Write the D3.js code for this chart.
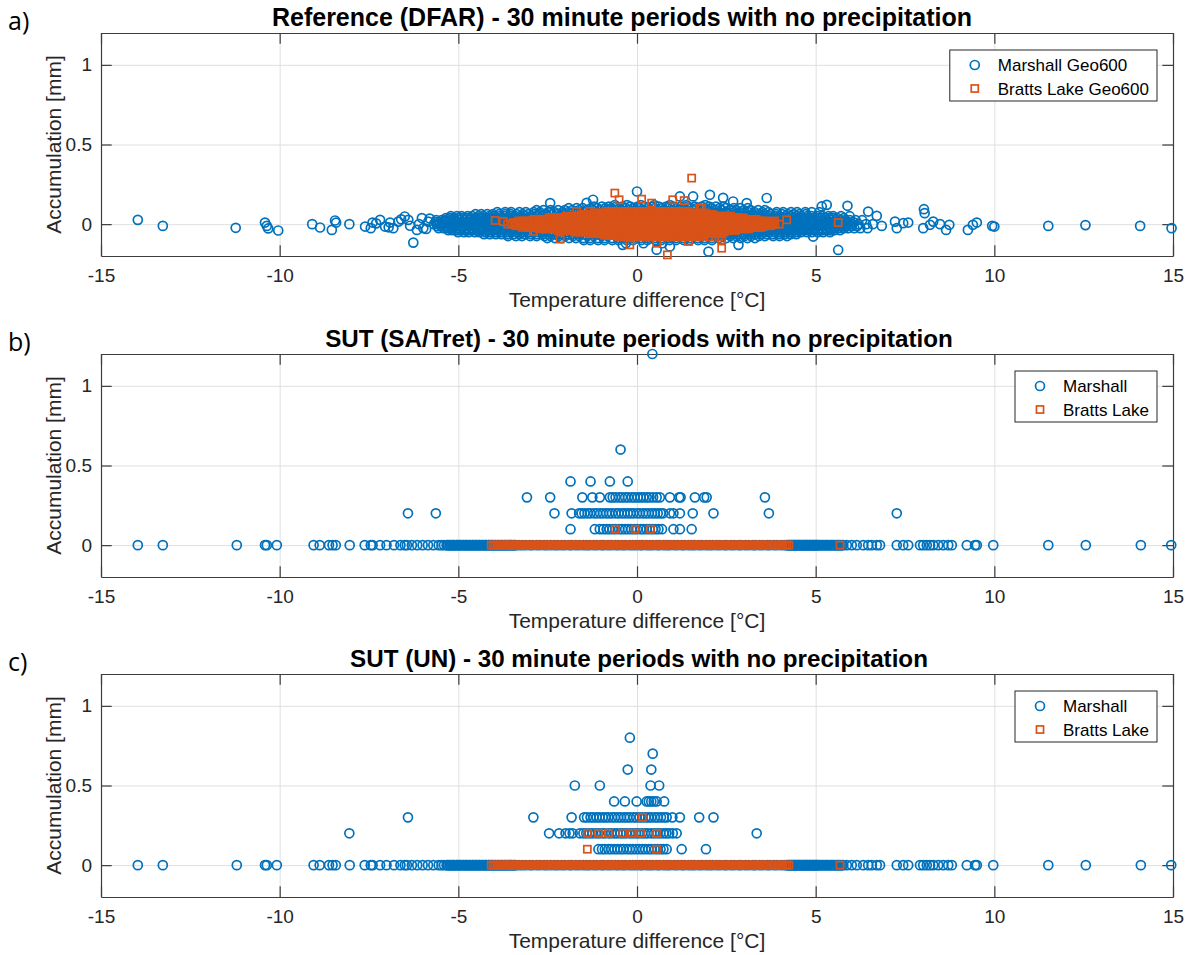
<!DOCTYPE html>
<html>
<head>
<meta charset="utf-8">
<script src="https://cdn.jsdelivr.net/npm/d3@7"></script>
<style>
  body { margin: 0; background: #fff; }
  svg { display: block; }
  text { font-family: "Liberation Sans", Arial, Helvetica, sans-serif; }
</style>
</head>
<body>
<svg id="fig" width="1191" height="955"></svg>
<script>
// ---- Axis ticks ----
const xTicks = [-15, -10, -5, 0, 5, 10, 15];
const yTicks = [0, 0.5, 1];
const xTickLabels = ["-15", "-10", "-5", "0", "5", "10", "15"];
const yTickLabels = ["0", "0.5", "1"];

// ---- a) Reference (DFAR) ----
// isolated periods: [temperature difference, accumulation]
const refMarshallSparse = [
  [-13.97, 0.027], [-13.27, -0.011], [-11.23, -0.023], [-10.41, 0.01], [-10.36, -0.011],
  [-10.32, -0.027], [-10.04, -0.04], [-9.09, 0], [-8.87, -0.021], [-8.54, -0.036],
  [-8.45, 0.023], [-8.42, 0.01], [-8.05, 0], [-7.61, -0.015], [-7.45, -0.025],
  [-7.4, 0.01], [-7.3, 0.005], [-7.19, 0.027], [-7.05, -0.015], [-6.95, -0.02],
  [-6.91, 0.01], [-6.82, -0.025], [-6.68, 0.016], [-6.6, 0.03], [-6.5, 0.048],
  [-6.4, 0.027], [-6.35, -0.01], [-6.26, -0.116], [-6.16, -0.036], [-6.1, 0],
  [-6.02, 0.038], [-5.98, -0.025], [-5.9, -0.03], [-5.84, 0.016], [-5.8, 0.035],
  [-2.43, 0.132], [-1.41, 0.134], [-1.23, 0.153], [0, 0.205], [1.2, 0.174], [1.57, 0.174],
  [2.04, 0.184], [2.41, 0.165], [2.69, 0.142], [3.07, 0.132], [3.63, 0.164],
  [2.0, -0.172], [2.84, -0.13], [0.55, -0.16], [0.92, -0.14], [-0.4, -0.13],
  [4.93, -0.078], [5.17, 0.111], [5.31, 0.121], [5.63, -0.162], [5.89, 0.115],
  [6.47, 0.079], [6.71, 0.052], [6.85, -0.011], [7.22, 0.016], [7.27, -0.025],
  [7.45, 0.006], [7.59, 0.01], [8.01, -0.025], [8.03, 0.094], [8.05, 0.069],
  [8.2, -0.004], [8.29, 0.016], [8.48, 0], [8.65, -0.036], [8.74, -0.004],
  [9.26, -0.036], [9.4, -0.004], [9.51, 0.01], [9.94, -0.011], [10.0, -0.015],
  [11.51, -0.011], [12.55, -0.006], [14.08, -0.011], [14.96, -0.025]
];
// dense part of the cloud: [accumulation, [temperature differences]]
const refMarshallBands = [
  [0, [-5.68, -5.57, -5.46, -5.34, -5.23, -5.11, -5.0, -4.89, -4.77, -4.66, -4.55, -4.43,
       -4.31, -4.2, -4.09, -3.97, -3.86, -3.74, -3.63, -3.31, -2.98, -2.72, -2.39, -2.1,
       -1.78, -1.52, -1.19, -0.91, -0.6, -0.33, 0.02, 0.29, 0.61, 0.88, 1.22, 1.49, 1.81,
       2.07, 2.42, 2.68, 3.01, 3.32, 3.61, 3.9, 4.01, 4.13, 4.24, 4.36, 4.47, 4.59, 4.7,
       4.82, 4.93, 5.05, 5.16, 5.28, 5.39, 5.51, 5.62, 5.74, 5.85, 6.02, 6.2, 6.41, 6.6]],
  [0.0125, [-5.63, -5.52, -5.4, -5.29, -5.17, -5.06, -4.94, -4.83, -4.71, -4.6, -4.48,
            -4.37, -4.25, -4.14, -4.02, -3.91, -3.79, -3.68, 3.96, 4.07, 4.19, 4.3, 4.42,
            4.53, 4.65, 4.76, 4.88, 4.99, 5.11, 5.22, 5.34, 5.45, 5.57, 5.68, 5.8, 5.91, 6.05]],
  [-0.0125, [-5.59, -5.47, -5.36, -5.24, -5.13, -5.01, -4.9, -4.78, -4.67, -4.55, -4.44,
             -4.32, -4.21, -4.09, -3.98, -3.86, -3.75, -3.63, 3.92, 4.03, 4.15, 4.26, 4.38,
             4.49, 4.61, 4.72, 4.84, 4.95, 5.07, 5.18, 5.3, 5.41, 5.53, 5.64, 5.76, 5.87,
             6.0, 6.16]],
  [0.025, [-5.62, -5.47, -5.36, -5.22, -5.1, -4.96, -4.84, -4.7, -4.58, -4.45, -4.31,
           -4.19, -4.05, -3.93, -3.79, -3.67, -3.54, -3.4, -3.28, -3.14, -2.82, -2.38, -2.01,
           -1.58, -1.22, -0.79, -0.41, 0.03, 0.38, 0.82, 1.19, 1.61, 1.98, 2.42, 2.79, 3.1,
           3.23, 3.37, 3.49, 3.62, 3.76, 3.88, 4.02, 4.14, 4.27, 4.41, 4.53, 4.66, 4.8, 4.92,
           5.05, 5.19, 5.31, 5.44, 5.58, 5.7, 5.83, 5.96, 6.12, 6.3]],
  [-0.025, [-5.55, -5.41, -5.29, -5.15, -5.03, -4.89, -4.77, -4.63, -4.51, -4.37, -4.25,
            -4.11, -3.99, -3.85, -3.73, -3.59, -3.47, -3.33, -3.21, -3.07, -2.69, -2.31,
            -1.88, -1.51, -1.09, -0.71, -0.28, 0.11, 0.49, 0.92, 1.29, 1.71, 2.08, 2.52, 2.86,
            3.05, 3.19, 3.31, 3.45, 3.57, 3.71, 3.83, 3.97, 4.09, 4.23, 4.35, 4.49, 4.61,
            4.75, 4.87, 5.01, 5.13, 5.27, 5.39, 5.53, 5.65, 5.79, 5.91, 6.08, 6.25, 6.45]],
  [0.0375, [-5.35, -5.23, -5.12, -5.0, -4.89, -4.77, -4.66, -4.54, -4.43, -4.31, -4.2,
            -4.08, -3.97, -3.85, -3.74, -3.62, -3.51, -3.39, -3.28, -3.16, -3.05, -2.93,
            3.31, 3.43, 3.54, 3.66, 3.77, 3.89, 4.0, 4.12, 4.23, 4.35, 4.46, 4.58, 4.69,
            4.81, 4.92, 5.04, 5.15, 5.27, 5.38, 5.5, 5.61, 5.79]],
  [-0.0375, [-5.28, -5.17, -5.05, -4.94, -4.82, -4.71, -4.59, -4.48, -4.36, -4.25, -4.13,
             -4.02, -3.9, -3.79, -3.67, -3.56, -3.44, -3.33, -3.21, -3.1, -2.98, 3.22, 3.34,
             3.45, 3.57, 3.68, 3.8, 3.91, 4.03, 4.14, 4.26, 4.37, 4.49, 4.6, 4.72, 4.83,
             4.95, 5.06, 5.18, 5.29, 5.41, 5.52, 5.68]],
  [0.05, [-5.21, -5.04, -4.91, -4.74, -4.61, -4.44, -4.31, -4.14, -4.01, -3.84, -3.71,
          -3.54, -3.41, -3.24, -3.11, -2.94, -2.81, -2.64, -2.51, -2.18, -1.82, -1.39, -1.02,
          -0.58, -0.21, 0.22, 0.58, 1.01, 1.38, 1.82, 2.19, 2.49, 2.66, 2.79, 2.96, 3.09,
          3.26, 3.39, 3.56, 3.69, 3.86, 3.99, 4.16, 4.29, 4.46, 4.59, 4.76, 4.89, 5.06,
          5.19, 5.36, 5.49, 5.71, 5.95]],
  [-0.05, [-5.01, -4.84, -4.71, -4.54, -4.41, -4.24, -4.11, -3.94, -3.81, -3.64, -3.51,
           -3.34, -3.21, -3.04, -2.91, -2.74, -2.61, -2.44, -2.31, -1.98, -1.61, -1.19,
           -0.82, -0.39, 0.01, 0.42, 0.79, 1.21, 1.58, 2.02, 2.36, 2.49, 2.66, 2.79, 2.96,
           3.09, 3.26, 3.39, 3.56, 3.69, 3.86, 3.99, 4.16, 4.29, 4.46, 4.59, 4.76, 4.89,
           5.06, 5.21, 5.4]],
  [0.0625, [-4.52, -4.36, -4.19, -4.03, -3.86, -3.7, -3.53, -3.37, -3.2, -3.04, -2.87,
            -2.71, -2.54, -2.38, -2.21, -2.05, -1.88, -1.72, -1.55, -1.39, -1.22, -1.06,
            -0.89, -0.73, -0.56, -0.4, -0.23, -0.07, 0.1, 0.26, 0.43, 0.59, 0.76, 0.92, 1.09,
            1.25, 1.42, 1.58, 1.75, 1.91, 2.08, 2.24, 2.41, 2.57, 2.74, 2.9, 3.07, 3.23, 3.4,
            3.56, 3.73, 3.89, 4.06, 4.22, 4.39, 4.55, 4.72]],
  [-0.0625, [-4.28, -4.12, -3.95, -3.79, -3.62, -3.46, -3.29, -3.13, -2.96, -2.8, -2.63,
             -2.47, -2.3, -2.14, -1.97, -1.81, -1.64, -1.48, -1.31, -1.15, -0.98, -0.82,
             -0.65, -0.49, -0.32, -0.16, 0.01, 0.17, 0.34, 0.5, 0.67, 0.83, 1.0, 1.16, 1.33,
             1.49, 1.66, 1.82, 1.99, 2.15, 2.32, 2.48, 2.65, 2.81, 2.98, 3.14, 3.31, 3.47,
             3.64, 3.8, 3.97, 4.13, 4.3, 4.46]],
  [0.075, [-3.91, -3.69, -3.52, -3.29, -3.11, -2.89, -2.72, -2.49, -2.31, -2.09, -1.92,
           -1.69, -1.51, -1.29, -1.12, -0.89, -0.71, -0.49, -0.32, -0.09, 0.09, 0.31, 0.48,
           0.71, 0.88, 1.11, 1.28, 1.51, 1.69, 1.91, 2.08, 2.31, 2.49, 2.71, 2.88, 3.11,
           3.29, 3.51, 3.68, 3.91, 4.09, 4.31, 4.48, 4.71, 4.89, 5.1]],
  [-0.075, [-3.61, -3.39, -3.22, -2.99, -2.81, -2.59, -2.42, -2.19, -2.01, -1.79, -1.62,
            -1.39, -1.21, -0.99, -0.82, -0.59, -0.41, -0.19, -0.02, 0.21, 0.38, 0.61, 0.79,
            1.01, 1.18, 1.41, 1.59, 1.81, 1.98, 2.21, 2.39, 2.61, 2.78, 3.01, 3.19, 3.41,
            3.58, 3.81, 3.99, 4.2]],
  [0.0875, [-2.81, -2.62, -2.42, -2.21, -2.02, -1.81, -1.62, -1.41, -1.22, -1.01, -0.82,
            -0.61, -0.42, -0.21, -0.02, 0.19, 0.38, 0.59, 0.78, 0.99, 1.18, 1.39, 1.58, 1.79,
            1.98, 2.19, 2.38, 2.59, 2.78, 2.99, 3.18, 3.39, 3.58]],
  [-0.0875, [-2.51, -2.3, -2.11, -1.9, -1.71, -1.5, -1.31, -1.1, -0.91, -0.7, -0.51, -0.3,
             -0.11, 0.1, 0.29, 0.5, 0.69, 0.9, 1.09, 1.3, 1.49, 1.7, 1.89, 2.1, 2.29, 2.5,
             2.69, 2.9, 3.09, 3.3]],
  [0.1, [-1.91, -1.69, -1.52, -1.29, -1.11, -0.89, -0.72, -0.49, -0.31, -0.09, 0.08, 0.31,
         0.49, 0.71, 0.88, 1.11, 1.29, 1.51, 1.68, 1.91, 2.09, 2.31, 2.48, 2.71, 2.89, 3.1]],
  [-0.1, [-1.49, -1.31, -1.09, -0.91, -0.69, -0.52, -0.29, -0.11, 0.12, 0.29, 0.51, 0.68,
          0.91, 1.09, 1.31, 1.48, 1.71, 1.89, 2.1]],
  [0.11, [-1.2, -0.98, -0.79, -0.58, -0.41, -0.19, 0.02, 0.21, 0.42, 0.61, 0.82, 1.01, 1.22,
          1.41, 1.62, 1.81, 2.02, 2.21, 2.42]],
  [0.12, [-0.62, -0.28, 0.11, 0.49, 0.92, 1.38, 1.91]],
  [-0.12, [-0.31, 0.18, 0.71]]
];

const refBrattsSparse = [
  [1.53, 0.289], [-0.62, 0.195], [-0.5, 0.153], [0.13, 0.157], [1.0, 0.153], [1.32, 0.148],
  [0.41, 0.132], [1.81, 0.1], [1.76, 0.1], [0.85, -0.193], [2.37, -0.151], [-0.2, -0.13],
  [-2.15, -0.094], [-3.97, 0.023], [-3.74, 0.016], [4.19, 0.027], [2.46, 0.05],
  [2.37, -0.099], [1.44, -0.109], [0.55, -0.12], [-2.9, -0.046], [2.42, -0.036],
  [-1.69, 0.08], [-1.32, 0.08], [5.63, 0.01], [3.6, 0.01], [3.85, 0.02]
];
const refBrattsBands = [
  [0, [-3.62, -3.51, -3.38, -3.27, -3.15, -3.04, -2.92, -2.81, -2.69, -2.58, -2.46, -2.35,
       -2.23, -2.12, -2.01, -1.89, -1.77, -1.66, -1.54, -1.43, -1.31, -1.2, -1.08, -0.97,
       -0.85, -0.74, -0.62, -0.51, -0.39, -0.28, -0.16, -0.05, 0.07, 0.18, 0.3, 0.41, 0.53,
       0.64, 0.76, 0.87, 0.99, 1.1, 1.22, 1.33, 1.45, 1.56, 1.68, 1.79, 1.91, 2.02, 2.14,
       2.25, 2.37, 2.48, 2.6, 2.71, 2.83, 2.94, 3.06, 3.17, 3.29, 3.4, 3.52, 3.63, 3.75,
       3.86, 3.98]],
  [0.01, [-3.45, -3.33, -3.22, -3.1, -2.99, -2.87, -2.76, -2.64, -2.53, -2.41, -2.3, -2.18,
          -2.07, -1.95, -1.84, -1.72, -1.61, -1.49, -1.38, -1.26, -1.15, -1.03, -0.92, -0.8,
          -0.69, -0.57, -0.46, -0.34, -0.23, -0.11, 0.0, 0.12, 0.23, 0.35, 0.46, 0.58, 0.69,
          0.81, 0.92, 1.04, 1.15, 1.27, 1.38, 1.5, 1.61, 1.73, 1.84, 1.96, 2.07, 2.19, 2.3,
          2.42, 2.53, 2.65, 2.76, 2.88, 2.99, 3.11, 3.22, 3.34, 3.45, 3.57, 3.68, 3.8]],
  [-0.01, [-3.39, -3.27, -3.16, -3.04, -2.93, -2.81, -2.7, -2.58, -2.47, -2.35, -2.24,
           -2.12, -2.01, -1.89, -1.78, -1.66, -1.55, -1.43, -1.32, -1.2, -1.09, -0.97, -0.86,
           -0.74, -0.63, -0.51, -0.4, -0.28, -0.17, -0.05, 0.06, 0.18, 0.29, 0.41, 0.52, 0.64,
           0.75, 0.87, 0.98, 1.1, 1.21, 1.33, 1.44, 1.56, 1.67, 1.79, 1.9, 2.02, 2.13, 2.25,
           2.36, 2.48, 2.59, 2.71, 2.82, 2.94, 3.05, 3.17, 3.28, 3.4, 3.51, 3.63, 3.74]],
  [0.02, [-3.31, -3.18, -3.08, -2.95, -2.85, -2.72, -2.62, -2.49, -2.39, -2.26, -2.16,
          -2.03, -1.93, -1.8, -1.7, -1.57, -1.47, -1.34, -1.24, -1.11, -1.01, -0.88, -0.78,
          -0.65, -0.55, -0.42, -0.32, -0.19, -0.09, 0.04, 0.14, 0.27, 0.37, 0.5, 0.6, 0.73,
          0.83, 0.96, 1.06, 1.19, 1.29, 1.42, 1.52, 1.65, 1.75, 1.88, 1.98, 2.11, 2.21,
          2.34, 2.44, 2.57, 2.67, 2.8, 2.9, 3.03, 3.13, 3.26, 3.36, 3.49, 3.6]],
  [-0.02, [-3.21, -3.07, -2.98, -2.84, -2.75, -2.61, -2.52, -2.38, -2.29, -2.15, -2.06,
           -1.92, -1.83, -1.69, -1.6, -1.46, -1.37, -1.23, -1.14, -1.0, -0.91, -0.77, -0.68,
           -0.54, -0.45, -0.31, -0.22, -0.08, 0.01, 0.15, 0.24, 0.38, 0.47, 0.61, 0.7, 0.84,
           0.93, 1.07, 1.16, 1.3, 1.39, 1.53, 1.62, 1.76, 1.85, 1.99, 2.08, 2.22, 2.31,
           2.45, 2.54, 2.68, 2.77, 2.91, 3.0, 3.14, 3.23, 3.37, 3.47]],
  [0.03, [-2.88, -2.77, -2.65, -2.54, -2.42, -2.31, -2.19, -2.08, -1.96, -1.85, -1.73,
          -1.62, -1.5, -1.39, -1.27, -1.16, -1.04, -0.93, -0.81, -0.7, -0.58, -0.47, -0.35,
          -0.24, -0.12, -0.01, 0.11, 0.22, 0.34, 0.45, 0.57, 0.68, 0.8, 0.91, 1.03, 1.14,
          1.26, 1.37, 1.49, 1.6, 1.72, 1.83, 1.95, 2.06, 2.18, 2.29, 2.41, 2.52, 2.64, 2.75,
          2.87, 2.98, 3.1, 3.21, 3.33]],
  [-0.03, [-2.74, -2.62, -2.51, -2.39, -2.28, -2.16, -2.05, -1.93, -1.82, -1.7, -1.59,
           -1.47, -1.36, -1.24, -1.13, -1.01, -0.9, -0.78, -0.67, -0.55, -0.44, -0.32, -0.21,
           -0.09, 0.02, 0.14, 0.25, 0.37, 0.48, 0.6, 0.71, 0.83, 0.94, 1.06, 1.17, 1.29, 1.4,
           1.52, 1.63, 1.75, 1.86, 1.98, 2.09, 2.21, 2.32, 2.44, 2.55, 2.67, 2.78, 2.9, 3.01,
           3.13]],
  [0.04, [-2.46, -2.32, -2.23, -2.09, -2.0, -1.86, -1.77, -1.63, -1.54, -1.4, -1.31, -1.17,
          -1.08, -0.94, -0.85, -0.71, -0.62, -0.48, -0.39, -0.25, -0.16, -0.02, 0.07, 0.21,
          0.3, 0.44, 0.53, 0.67, 0.76, 0.9, 0.99, 1.13, 1.22, 1.36, 1.45, 1.59, 1.68, 1.82,
          1.91, 2.05, 2.14, 2.28, 2.37, 2.51, 2.6, 2.74, 2.83, 2.97]],
  [-0.04, [-2.21, -2.08, -1.98, -1.85, -1.75, -1.62, -1.52, -1.39, -1.29, -1.16, -1.06,
           -0.93, -0.83, -0.7, -0.6, -0.47, -0.37, -0.24, -0.14, -0.01, 0.09, 0.22, 0.32,
           0.45, 0.55, 0.68, 0.78, 0.91, 1.01, 1.14, 1.24, 1.37, 1.47, 1.6, 1.7, 1.83, 1.93,
           2.06, 2.16, 2.29, 2.39, 2.52, 2.62, 2.75]],
  [0.05, [-1.98, -1.86, -1.75, -1.63, -1.52, -1.4, -1.29, -1.17, -1.06, -0.94, -0.83, -0.71,
          -0.6, -0.48, -0.37, -0.25, -0.14, -0.02, 0.09, 0.21, 0.32, 0.44, 0.55, 0.67, 0.78,
          0.9, 1.01, 1.13, 1.24, 1.36, 1.47, 1.59, 1.7, 1.82, 1.93, 2.05, 2.16, 2.28, 2.39,
          2.51, 2.62]],
  [-0.05, [-1.74, -1.62, -1.51, -1.39, -1.28, -1.16, -1.05, -0.93, -0.82, -0.7, -0.59,
           -0.47, -0.36, -0.24, -0.13, -0.01, 0.1, 0.22, 0.33, 0.45, 0.56, 0.68, 0.79, 0.91,
           1.02, 1.14, 1.25, 1.37, 1.48, 1.6, 1.71, 1.83, 1.94, 2.06, 2.17, 2.29, 2.44]],
  [0.06, [-1.56, -1.42, -1.33, -1.19, -1.1, -0.96, -0.87, -0.73, -0.64, -0.5, -0.41, -0.27,
          -0.18, -0.04, 0.05, 0.19, 0.28, 0.42, 0.51, 0.65, 0.74, 0.88, 0.97, 1.11, 1.2,
          1.34, 1.43, 1.57, 1.66, 1.8, 1.89, 2.03, 2.12]],
  [-0.06, [-1.31, -1.17, -1.08, -0.94, -0.85, -0.71, -0.62, -0.48, -0.39, -0.25, -0.16,
           -0.02, 0.07, 0.21, 0.3, 0.44, 0.53, 0.67, 0.76, 0.9, 0.99, 1.13, 1.22, 1.36, 1.45,
           1.59, 1.68, 1.82, 1.91, 2.05, 2.19, 2.36]],
  [0.07, [-1.19, -1.07, -0.96, -0.84, -0.73, -0.61, -0.5, -0.38, -0.27, -0.15, -0.04, 0.08,
          0.19, 0.31, 0.42, 0.54, 0.65, 0.77, 0.88, 1.0, 1.11, 1.23, 1.34, 1.46, 1.57, 1.69,
          1.8, 1.92]],
  [-0.07, [-0.91, -0.79, -0.68, -0.56, -0.45, -0.33, -0.22, -0.1, 0.01, 0.13, 0.24, 0.36,
           0.47, 0.59, 0.7, 0.82, 0.93, 1.05, 1.16, 1.28, 1.39, 1.51, 1.62, 1.74, 1.88]],
  [0.08, [-0.86, -0.69, -0.56, -0.39, -0.26, -0.09, 0.04, 0.21, 0.34, 0.51, 0.64, 0.81,
          0.94, 1.11, 1.24, 1.41]],
  [-0.08, [-0.51, -0.34, -0.21, -0.04, 0.09, 0.26, 0.39, 0.56, 0.69, 0.86, 0.99, 1.16,
           1.29, 1.51, 1.74, 2.01, 2.29]]
];

// ---- b) and c): periods with zero accumulation (temperature differences) ----
const marshallZeroTemps = [
  -13.97, -13.27, -11.2, -10.41, -10.36, -10.08, -9.05, -8.88, -8.62, -8.52, -8.43, -8.04,
  -7.62, -7.45, -7.4, -7.19, -7.01, -6.8, -6.62, -6.5, -6.44, -6.3, -6.15, -6.0, -5.85,
  -5.7, -5.55, -5.47, -5.4,
  -5.33, -5.3, -5.28, -5.24, -5.21, -5.19, -5.15, -5.13, -5.11, -5.06, -5.04, -5.02, -4.97,
  -4.95, -4.93, -4.88, -4.86, -4.83, -4.79, -4.77, -4.75, -4.7, -4.68, -4.66, -4.61, -4.59,
  -4.57, -4.52, -4.5, -4.48, -4.43, -4.41, -4.39, -4.34, -4.32, -4.29, -4.25, -4.23, -4.21,
  -4.16, -4.14, -4.12, -4.07, -4.05, -4.03, -3.98, -3.96, -3.94, -3.89, -3.87, -3.84,
  -3.8, -3.78, -3.76, -3.71, -3.69, -3.67, -3.62, -3.6, -3.58, -3.53, -3.51, -3.49, -3.44,
  -3.42, -3.39,
  -3.3, -3.21, -3.12, -3.0, -2.93, -2.81, -2.72, -2.6, -2.52, -2.41, -2.3, -2.22, -2.11,
  -2.02, -1.9, -1.83, -1.71, -1.62, -1.5, -1.41, -1.33, -1.21, -1.12, -1.0, -0.93, -0.81,
  -0.72, -0.6, -0.52, -0.41, -0.33, -0.21, -0.12, -0.03, 0.08, 0.15, 0.27, 0.36, 0.44,
  0.56, 0.63, 0.75, 0.84, 0.92, 1.04, 1.13, 1.25, 1.32, 1.44, 1.53, 1.61, 1.73, 1.82,
  1.94, 2.03, 2.11, 2.23, 2.32, 2.44, 2.51, 2.63, 2.72, 2.84, 2.91, 3.03, 3.12, 3.24,
  3.31, 3.43, 3.52, 3.64, 3.71, 3.83, 3.92, 4.04, 4.13,
  4.19, 4.21, 4.24, 4.26, 4.28, 4.31, 4.33, 4.35, 4.37, 4.4, 4.42, 4.44, 4.46, 4.49, 4.51,
  4.53, 4.55, 4.58, 4.6, 4.62, 4.65, 4.67, 4.69, 4.72, 4.74, 4.76, 4.78, 4.81, 4.83, 4.85,
  4.87, 4.9, 4.92, 4.94, 4.96, 4.99, 5.01, 5.03, 5.05, 5.08, 5.11, 5.14, 5.18, 5.21, 5.24,
  5.28, 5.31, 5.34, 5.37, 5.41, 5.44, 5.47, 5.5, 5.54, 5.57, 5.6, 5.63, 5.67, 5.7, 5.74,
  5.77, 5.87, 6.01, 6.15, 6.33, 6.47, 6.57, 6.71,
  6.8, 7.27, 7.45, 7.59, 7.92, 8.01, 8.11, 8.2, 8.29, 8.43, 8.57, 8.71, 8.81, 9.23, 9.46,
  9.51, 9.97, 11.51, 12.56, 14.1, 14.95
];

const brattsZeroTemps = [
  -4.08, -4.02, -3.97, -3.92, -3.88, -3.83, -3.78, -3.74, -3.69, -3.64, -3.6, -3.55, -3.51,
  -3.45, -3.42, -3.37, -3.33, -3.29, -3.26, -3.21, -3.17, -3.14, -3.09, -3.05, -3.02,
  -2.97, -2.94, -2.89, -2.85, -2.81, -2.78, -2.73, -2.69, -2.66, -2.61, -2.57, -2.54,
  -2.49, -2.45, -2.41, -2.37, -2.33, -2.3, -2.25, -2.21, -2.18, -2.13, -2.09, -2.06,
  -2.01, -1.97, -1.94, -1.89, -1.85, -1.81, -1.77, -1.73, -1.7, -1.65, -1.61, -1.58,
  -1.53, -1.49, -1.46, -1.41, -1.37, -1.33, -1.29, -1.25, -1.22, -1.17, -1.13, -1.1,
  -1.05, -1.01, -0.98, -0.93, -0.89, -0.85, -0.81, -0.77, -0.74, -0.69, -0.65, -0.62,
  -0.57, -0.53, -0.5, -0.45, -0.41, -0.37, -0.33, -0.29, -0.26, -0.21, -0.17, -0.14,
  -0.09, -0.05, -0.02, 0.03, 0.07, 0.11, 0.15, 0.19, 0.22, 0.27, 0.31, 0.34, 0.39, 0.43,
  0.46, 0.51, 0.55, 0.59, 0.63, 0.67, 0.7, 0.75, 0.79, 0.82, 0.87, 0.91, 0.94, 0.99,
  1.03, 1.07, 1.11, 1.15, 1.18, 1.23, 1.27, 1.3, 1.35, 1.39, 1.42, 1.47, 1.51, 1.55,
  1.59, 1.63, 1.66, 1.71, 1.75, 1.78, 1.83, 1.87, 1.9, 1.95, 1.99, 2.03, 2.07, 2.11,
  2.14, 2.19, 2.23, 2.26, 2.31, 2.35, 2.38, 2.43, 2.47, 2.51, 2.55, 2.59, 2.62, 2.67,
  2.71, 2.74, 2.79, 2.83, 2.86, 2.91, 2.95, 2.99, 3.03, 3.07, 3.1, 3.15, 3.19, 3.22,
  3.27, 3.31, 3.35, 3.39, 3.43, 3.48, 3.53, 3.57, 3.62, 3.67, 3.72, 3.76, 3.81, 3.86,
  3.92, 3.97, 4.02, 4.08, 4.14, 4.19, 4.25, 5.68
];

// ---- b) SUT (SA/Tret): [accumulation, [temperature differences]] ----
const saMarshall = [
  [1.2, [0.43]],
  [0.6, [-0.46]],
  [0.4, [-1.86, -1.3, -0.76, -0.26]],
  [0.3, [-3.08, -2.43, -1.53, -1.25, -1.04, -0.76, -0.68, -0.6, -0.5, -0.42, -0.33, -0.25,
         -0.15, -0.07, 0.02, 0.1, 0.18, 0.27, 0.35, 0.45, 0.55, 0.64, 0.92, 1.18, 1.22, 1.62,
         1.88, 1.95, 3.58]],
  [0.2, [-6.41, -5.63, -2.31, -1.83, -1.62, -1.55, -1.47, -1.38, -1.3, -1.2, -1.12, -1.03,
         -0.95, -0.86, -0.78, -0.7, -0.6, -0.52, -0.43, -0.35, -0.26, -0.18, -0.1, 0.0, 0.08,
         0.17, 0.25, 0.33, 0.42, 0.5, 0.58, 0.66, 0.73, 0.92, 1.02, 1.2, 1.56, 2.14, 3.69, 7.27]],
  [0.1, [-1.86, -1.18, -1.04, -0.94, -0.85, -0.77, -0.68, -0.6, -0.5, -0.42, -0.33, -0.25,
         -0.16, -0.08, 0.0, 0.1, 0.18, 0.27, 0.35, 0.44, 0.52, 0.6, 0.7, 1.02, 1.2, 1.53]]
];
const saBratts = [
  [0.1, [-0.61, -0.05, 0.38]]
];

// ---- c) SUT (UN): [accumulation, [temperature differences]] ----
const unMarshall = [
  [0.8, [-0.2]],
  [0.7, [0.44]],
  [0.6, [-0.26, 0.4]],
  [0.5, [-1.74, -1.04, 0.38, 0.62]],
  [0.4, [-0.64, -0.34, -0.01, 0.27, 0.33, 0.4, 0.47, 0.55, 0.76]],
  [0.3, [-6.41, -2.9, -1.83, -1.48, -1.4, -1.3, -1.22, -1.13, -1.05, -0.96, -0.88, -0.8, -0.7,
         -0.62, -0.53, -0.45, -0.36, -0.28, -0.2, -0.1, -0.02, 0.07, 0.15, 0.24, 0.32, 0.4,
         0.5, 0.58, 0.67, 0.75, 0.83, 0.99, 1.2, 1.74, 2.14]],
  [0.2, [-8.05, -2.46, -2.18, -2.0, -1.89, -1.8, -1.6, -1.5, -1.42, -1.33, -1.25, -1.15, -1.07,
         -0.98, -0.9, -0.8, -0.72, -0.63, -0.55, -0.46, -0.38, -0.3, -0.2, -0.12, -0.03, 0.05,
         0.14, 0.22, 0.3, 0.4, 0.48, 0.57, 0.65, 0.74, 0.82, 0.9, 1.0, 1.11, 3.35]],
  [0.1, [-1.08, -0.98, -0.9, -0.8, -0.72, -0.63, -0.55, -0.46, -0.38, -0.28, -0.2, -0.12,
         -0.03, 0.06, 0.15, 0.23, 0.32, 0.4, 0.5, 0.58, 0.66, 0.74, 0.83, 1.25, 1.93]]
];
const unBratts = [
  [0.3, [0.15]],
  [0.2, [-1.39, -1.08, -0.8, -0.4, -0.15, 0.1, 0.55]],
  [0.1, [-1.39, 0.55]]
];

// ---- helpers turning the tables into point lists ----
const fromPairs = pairs => pairs.map(([t, a]) => ({t, a}));
const fromBands = bands => bands.flatMap(([a, ts]) => ts.map(t => ({t, a})));
const fromLevels = (levels, zeroTemps) =>
  zeroTemps.map(t => ({t, a: 0})).concat(fromBands(levels));

const panels = [
  {tag: "a)", title: "Reference (DFAR) - 30 minute periods with no precipitation", top: 33,
   titleX: 622, titleSize: 25,
   marshall: fromBands(refMarshallBands).concat(fromPairs(refMarshallSparse)),
   bratts: fromBands(refBrattsBands).concat(fromPairs(refBrattsSparse)),
   legend: ["Marshall Geo600", "Bratts Lake Geo600"]},
  {tag: "b)", title: "SUT (SA/Tret) - 30 minute periods with no precipitation", top: 354,
   titleX: 639, titleSize: 24.2,
   marshall: fromLevels(saMarshall, marshallZeroTemps), bratts: fromLevels(saBratts, brattsZeroTemps),
   legend: ["Marshall", "Bratts Lake"]},
  {tag: "c)", title: "SUT (UN) - 30 minute periods with no precipitation", top: 674,
   titleX: 639, titleSize: 24.2,
   marshall: fromLevels(unMarshall, marshallZeroTemps), bratts: fromLevels(unBratts, brattsZeroTemps),
   legend: ["Marshall", "Bratts Lake"]}
];

// ---- drawing ----
const BLUE = "#0072BD", ORANGE = "#D95319", INK = "#262626";
const left = 101, right = 1173, plotH = 223;
const tickLen = 10.7;
const svg = d3.select("#fig");
const x = d3.scaleLinear().domain([-15, 15]).range([left, right]);
const R = 4.5, S = 7.1, SW = 1.7;

function circles(g, pts, fx, fy) {
  g.selectAll("circle").data(pts).join("circle")
    .attr("cx", d => fx(d)).attr("cy", d => fy(d)).attr("r", R)
    .attr("fill", "none").attr("stroke", BLUE).attr("stroke-width", SW);
}
function squares(g, pts, fx, fy) {
  g.selectAll("rect").data(pts).join("rect")
    .attr("x", d => fx(d) - S / 2).attr("y", d => fy(d) - S / 2).attr("width", S).attr("height", S)
    .attr("fill", "none").attr("stroke", ORANGE).attr("stroke-width", SW);
}

panels.forEach(p => {
  const top = p.top, bottom = top + plotH;
  const y = d3.scaleLinear().domain([-0.2, 1.2]).range([bottom, top]);
  const g = svg.append("g");

  // grid
  g.append("g").attr("transform", `translate(0,${bottom})`)
    .call(d3.axisBottom(x).tickValues(xTicks).tickSize(-plotH).tickFormat(""))
    .call(s => s.select(".domain").remove())
    .call(s => s.selectAll("line").attr("stroke", "#dfdfdf").attr("stroke-width", 1));
  g.append("g").attr("transform", `translate(${left},0)`)
    .call(d3.axisLeft(y).tickValues(yTicks).tickSize(-(right - left)).tickFormat(""))
    .call(s => s.select(".domain").remove())
    .call(s => s.selectAll("line").attr("stroke", "#dfdfdf").attr("stroke-width", 1));

  // axes box with inward ticks
  const styleAxis = s => {
    s.select(".domain").attr("stroke", "#3c3c3c").attr("stroke-width", 1.2);
    s.selectAll(".tick line").attr("stroke", "#3c3c3c").attr("stroke-width", 1.2);
    s.selectAll("text").attr("fill", INK).style("font-size", "19px")
      .style("font-family", "'Liberation Sans', Arial, sans-serif");
  };
  g.append("g").attr("transform", `translate(0,${bottom})`)
    .call(d3.axisBottom(x).tickValues(xTicks).tickSizeInner(-tickLen).tickSizeOuter(0)
      .tickPadding(13).tickFormat((d, i) => xTickLabels[i]))
    .call(styleAxis);
  g.append("g").attr("transform", `translate(0,${top})`)
    .call(d3.axisTop(x).tickValues(xTicks).tickSizeInner(-tickLen).tickSizeOuter(0).tickFormat(""))
    .call(styleAxis);
  g.append("g").attr("transform", `translate(${left},0)`)
    .call(d3.axisLeft(y).tickValues(yTicks).tickSizeInner(-tickLen).tickSizeOuter(0)
      .tickPadding(9).tickFormat((d, i) => yTickLabels[i]))
    .call(styleAxis);
  g.append("g").attr("transform", `translate(${right},0)`)
    .call(d3.axisRight(y).tickValues(yTicks).tickSizeInner(-tickLen).tickSizeOuter(0).tickFormat(""))
    .call(styleAxis);

  // markers
  circles(g.append("g"), p.marshall, d => x(d.t), d => y(d.a));
  squares(g.append("g"), p.bratts, d => x(d.t), d => y(d.a));

  // titles and labels
  g.append("text").attr("x", p.titleX).attr("y", top - 7)
    .attr("text-anchor", "middle").style("font-weight", "bold").style("font-size", p.titleSize + "px")
    .attr("fill", "#000").text(p.title);
  g.append("text").attr("x", (left + right) / 2).attr("y", bottom + 51)
    .attr("text-anchor", "middle").style("font-size", "21px").attr("fill", INK)
    .text("Temperature difference [°C]");
  g.append("text").attr("transform", `translate(61,${(top + bottom) / 2}) rotate(-90)`)
    .attr("text-anchor", "middle").style("font-size", "21px").attr("fill", INK)
    .text("Accumulation [mm]");
  g.append("text").attr("x", 8).attr("y", top - 3)
    .style("font-size", "25px").style("font-family", "'Open Sans', sans-serif").attr("fill", "#000")
    .text(p.tag);

  // legend
  const lg = g.append("g");
  const box = lg.append("rect").attr("fill", "#fff").attr("stroke", INK).attr("stroke-width", 1);
  const texts = p.legend.map((t, i) => lg.append("text").attr("y", top + 32 + i * 23.5 + 6)
    .style("font-size", "17px").attr("fill", "#000").text(t));
  const w = d3.max(texts, t => t.node().getComputedTextLength());
  const bx = 1157 - (w + 56);
  texts.forEach(t => t.attr("x", bx + 48));
  box.attr("x", bx).attr("y", top + 17).attr("width", w + 56).attr("height", 51);
  circles(lg.append("g"), [{t: 0}], () => bx + 25, () => top + 32);
  squares(lg.append("g"), [{t: 0}], () => bx + 25, () => top + 55.5);
});
</script>
</body>
</html>
